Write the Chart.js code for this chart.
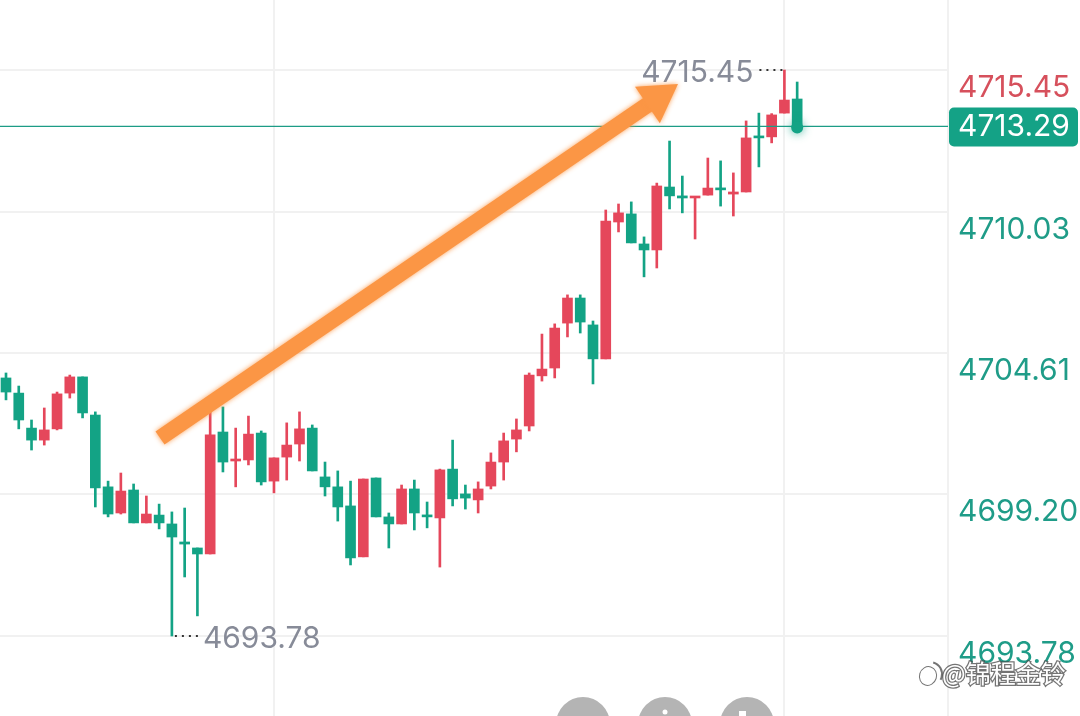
<!DOCTYPE html>
<html>
<head>
<meta charset="utf-8">
<script src="https://cdn.jsdelivr.net/npm/chart.js@4.4.1/dist/chart.umd.min.js"></script>
<style>
  html, body { margin: 0; padding: 0; background: #fff; }
  #wrap { width: 1080px; height: 716px; position: relative; }
</style>
</head>
<body>
<div id="wrap"><canvas id="kline"></canvas></div>
<script>
'use strict'

// candle values, oldest first (red = up, green = down)
const open = [
  4703.66, 4703.08, 4701.74, 4701.28, 4701.71, 4703.08, 4703.70, 4702.24, 4699.49, 4698.49,
  4699.37, 4698.11, 4698.41, 4698.07, 4697.38, 4697.15, 4696.92, 4701.59, 4700.48, 4700.52,
  4701.55, 4699.71, 4700.63, 4701.13, 4701.74, 4699.87, 4699.49, 4698.76, 4696.81, 4699.83,
  4698.34, 4698.07, 4699.41, 4698.41, 4698.30, 4700.17, 4699.22, 4698.99, 4699.52, 4700.44,
  4701.32, 4701.82, 4703.74, 4704.04, 4705.76, 4706.72, 4705.69, 4704.39, 4709.63, 4709.94,
  4708.79, 4708.56, 4710.97, 4710.63, 4710.55, 4710.66, 4710.93, 4710.70, 4710.78, 4712.92,
  4712.89, 4713.80, 4714.34
]
const high = [
  4703.85, 4703.35, 4702.05, 4702.51, 4703.12, 4703.77, 4703.70, 4702.36, 4699.71, 4700.02,
  4699.60, 4699.14, 4698.83, 4698.53, 4698.68, 4697.15, 4702.62, 4702.55, 4701.74, 4702.20,
  4701.63, 4700.60, 4701.94, 4702.36, 4701.86, 4700.44, 4700.10, 4699.71, 4699.79, 4699.83,
  4698.49, 4699.56, 4699.75, 4698.91, 4700.17, 4701.28, 4699.56, 4699.68, 4700.79, 4701.55,
  4702.09, 4703.85, 4705.34, 4705.73, 4706.84, 4706.84, 4705.84, 4710.09, 4710.32, 4710.40,
  4709.06, 4711.12, 4712.73, 4711.39, 4710.59, 4712.08, 4711.97, 4711.51, 4713.50, 4713.80,
  4713.78, 4715.45, 4714.99
]
const low = [
  4702.82, 4701.71, 4700.90, 4701.09, 4701.67, 4702.89, 4702.13, 4698.72, 4698.34, 4698.45,
  4698.11, 4698.11, 4697.88, 4693.78, 4696.04, 4694.55, 4696.92, 4700.06, 4699.49, 4700.33,
  4699.56, 4699.26, 4699.75, 4700.48, 4700.10, 4699.14, 4698.18, 4696.50, 4696.81, 4698.34,
  4697.15, 4698.07, 4697.84, 4697.92, 4696.42, 4698.76, 4698.64, 4698.49, 4699.41, 4699.75,
  4700.83, 4701.63, 4703.54, 4703.66, 4705.23, 4705.38, 4703.43, 4704.39, 4709.25, 4708.83,
  4707.53, 4707.87, 4710.13, 4709.98, 4708.98, 4710.66, 4710.24, 4709.86, 4710.78, 4711.74,
  4712.66, 4713.80, 4713.29
]
const close = [
  4703.12, 4702.05, 4701.28, 4701.67, 4703.05, 4703.70, 4702.32, 4699.45, 4698.45, 4699.33,
  4698.11, 4698.45, 4698.11, 4697.57, 4697.30, 4696.92, 4701.48, 4700.44, 4700.52, 4701.51,
  4699.68, 4700.60, 4701.09, 4701.71, 4700.10, 4699.49, 4698.72, 4696.77, 4699.79, 4698.34,
  4698.07, 4699.41, 4698.49, 4698.34, 4700.14, 4699.03, 4699.06, 4699.41, 4700.44, 4701.25,
  4701.67, 4703.77, 4704.00, 4705.57, 4706.72, 4705.80, 4704.39, 4709.67, 4709.98, 4708.83,
  4708.56, 4711.01, 4710.63, 4710.55, 4710.59, 4710.93, 4710.86, 4710.78, 4712.85, 4712.85,
  4713.73, 4714.30, 4713.29
]

// price scale ticks on the right, and the two time gridlines (candle index)
const yTicks = [4693.78, 4699.20, 4704.61, 4710.03, 4715.45]
const xGridAt = [21, 61]
const lastPrice = 4713.29
const maxPrice = 4715.45
const minPrice = 4693.78
// hand drawn arrow, in candle index / price units
const arrowFrom = { x: 12.07, y: 4701.36 }
const arrowTo = { x: 52.66, y: 4714.91 }
const watermark = '@锦程金铃'

const UP = '#e5475b'
const DOWN = '#13a385'
const TEAL_TXT = '#1f9c88'
const FONT = 'Inter, "Noto Sans", sans-serif'
const FONT_PX = 30

const idx = close.map((c, i) => i)
const wickData = idx.map(i => ({ x: i, y: [low[i], high[i]] }))
const bodyData = idx.map(i => ({ x: i, y: [open[i], close[i]] }))
const candleColor = i => (close[i] >= open[i] ? UP : DOWN)

/////////////////////////////////////////////////////////////////////
// overlays: price line, arrow, min/max marks, last price box
/////////////////////////////////////////////////////////////////////
const overlay = {
  id: 'overlay',
  afterDatasetsDraw(chart) {
    const ctx = chart.ctx
    const xs = chart.scales.x
    const ys = chart.scales.y
    const area = chart.chartArea

    // last price line
    const yLast = ys.getPixelForValue(lastPrice)
    ctx.save()
    ctx.strokeStyle = '#1c9c86'
    ctx.lineWidth = 1.2
    ctx.beginPath()
    ctx.moveTo(area.left, yLast)
    ctx.lineTo(area.right, yLast)
    ctx.stroke()

    // glowing dot on the last candle
    const xLast = xs.getPixelForValue(close.length - 1)
    ctx.shadowColor = 'rgba(19,163,133,0.8)'
    ctx.shadowBlur = 10
    ctx.fillStyle = DOWN
    ctx.beginPath()
    ctx.arc(xLast, yLast + 1, 6, 0, Math.PI * 2)
    ctx.fill()
    ctx.restore()

    // max / min marks
    ctx.save()
    ctx.font = FONT_PX + 'px ' + FONT
    ctx.fillStyle = '#878b98'
    ctx.textBaseline = 'middle'
    ctx.strokeStyle = '#333'
    ctx.lineWidth = 2
    ctx.setLineDash([2, 5])
    const iMax = high.indexOf(maxPrice)
    const xMax = xs.getPixelForValue(iMax)
    const yMax = ys.getPixelForValue(maxPrice)
    ctx.beginPath()
    ctx.moveTo(xMax - 25, yMax)
    ctx.lineTo(xMax - 2, yMax)
    ctx.stroke()
    ctx.textAlign = 'right'
    ctx.fillText(maxPrice.toFixed(2), xMax - 31, yMax + 3)

    const iMin = low.indexOf(minPrice)
    const xMin = xs.getPixelForValue(iMin)
    const yMin = ys.getPixelForValue(minPrice)
    ctx.beginPath()
    ctx.moveTo(xMin + 3, yMin)
    ctx.lineTo(xMin + 28, yMin)
    ctx.stroke()
    ctx.textAlign = 'left'
    ctx.fillText(minPrice.toFixed(2), xMin + 31, yMin + 3)
    ctx.restore()

    // orange arrow
    const x0 = xs.getPixelForValue(arrowFrom.x), y0 = ys.getPixelForValue(arrowFrom.y)
    const x1 = xs.getPixelForValue(arrowTo.x), y1 = ys.getPixelForValue(arrowTo.y)
    const len = Math.hypot(x1 - x0, y1 - y0)
    const ux = (x1 - x0) / len, uy = (y1 - y0) / len
    const nx = -uy, ny = ux
    const headLen = 37, headHalf = 22
    const bx = x1 - ux * headLen, by = y1 - uy * headLen
    ctx.save()
    ctx.fillStyle = '#fb9645'
    ctx.strokeStyle = '#fb9645'
    ctx.shadowColor = 'rgba(251,150,69,0.9)'
    ctx.shadowBlur = 5
    ctx.lineWidth = 16
    ctx.lineCap = 'butt'
    ctx.beginPath()
    ctx.moveTo(x0, y0)
    ctx.lineTo(bx + ux * 4, by + uy * 4)
    ctx.stroke()
    ctx.beginPath()
    ctx.moveTo(x1, y1)
    ctx.lineTo(bx + nx * headHalf, by + ny * headHalf)
    ctx.lineTo(bx - nx * headHalf, by - ny * headHalf)
    ctx.closePath()
    ctx.fill()
    ctx.restore()
  },
  afterDraw(chart) {
    const ctx = chart.ctx
    const ys = chart.scales.y
    const area = chart.chartArea
    const yLast = ys.getPixelForValue(lastPrice)

    // last price box on the axis
    ctx.save()
    ctx.fillStyle = '#14a286'
    ctx.beginPath()
    ctx.roundRect(area.right + 1, yLast - 19, 129, 39, 5)
    ctx.fill()
    ctx.fillStyle = '#fff'
    ctx.font = FONT_PX + 'px ' + FONT
    ctx.textBaseline = 'middle'
    ctx.textAlign = 'left'
    ctx.fillText(lastPrice.toFixed(2), area.right + 10, yLast + 1)
    ctx.restore()

    // bottom toolbar buttons (cut off by the frame)
    ctx.save()
    ctx.fillStyle = '#b4b4b4'
    ;[583, 665, 747].forEach(cx => {
      ctx.beginPath()
      ctx.arc(cx, 724, 27, 0, Math.PI * 2)
      ctx.fill()
    })
    ctx.fillStyle = '#fff'
    ctx.beginPath()
    ctx.arc(665, 712, 2.5, 0, Math.PI * 2)
    ctx.fill()
    ctx.fillRect(739, 711, 7, 6)
    ctx.restore()

    // watermark
    ctx.save()
    ctx.font = '25px "Noto Sans CJK SC", sans-serif'
    ctx.textBaseline = 'middle'
    ctx.textAlign = 'left'
    ctx.lineWidth = 2.5
    ctx.strokeStyle = 'rgba(70,70,70,0.75)'
    ctx.fillStyle = '#fff'
    ctx.strokeText(watermark, 942, 673)
    ctx.fillText(watermark, 942, 673)
    // little logo
    ctx.lineWidth = 2
    ctx.beginPath()
    ctx.ellipse(928, 676, 8, 9, 0.3, 0, Math.PI * 2)
    ctx.stroke()
    ctx.fill()
    ctx.beginPath()
    ctx.arc(930, 674, 12, -1.3, 0.5)
    ctx.stroke()
    ctx.restore()
  }
}

new Chart(document.getElementById('kline'), {
  type: 'bar',
  data: {
    datasets: [
      {
        label: 'wick',
        data: wickData,
        backgroundColor: c => candleColor(c.dataIndex),
        barThickness: 2,
        grouped: false,
        order: 2
      },
      {
        label: 'body',
        data: bodyData,
        backgroundColor: c => candleColor(c.dataIndex),
        barThickness: 10,
        minBarLength: 2,
        grouped: false,
        order: 1
      }
    ]
  },
  options: {
    responsive: true,
    maintainAspectRatio: false,
    animation: false,
    layout: { padding: 0 },
    plugins: {
      legend: { display: false },
      tooltip: { enabled: false }
    },
    scales: {
      x: {
        type: 'linear',
        offset: false,
        min: -0.47,
        max: 73.82,
        afterBuildTicks: s => { s.ticks = xGridAt.map(v => ({ value: v })) },
        afterFit: s => { s.height = 0; s.paddingLeft = 0; s.paddingRight = 0 },
        ticks: { display: false },
        grid: { color: '#f1f1f1', lineWidth: 2, drawTicks: false, offset: false },
        border: { display: false }
      },
      y: {
        position: 'right',
        min: 4690.717,
        max: 4718.13,
        afterBuildTicks: s => { s.ticks = yTicks.map(v => ({ value: v })) },
        afterFit: s => { s.width = 132; s.paddingTop = 0; s.paddingBottom = 0 },
        ticks: {
          padding: 10,
          labelOffset: 18,
          font: { family: FONT, size: FONT_PX },
          color: c => (c.tick && c.tick.value === maxPrice ? '#d6505c' : TEAL_TXT),
          callback: v => Number(v).toFixed(2)
        },
        grid: { color: '#f1f1f1', lineWidth: 2, drawTicks: false },
        border: { display: true, color: '#f1f1f1', width: 2 }
      }
    }
  },
  plugins: [overlay]
})
</script>
</body>
</html>
